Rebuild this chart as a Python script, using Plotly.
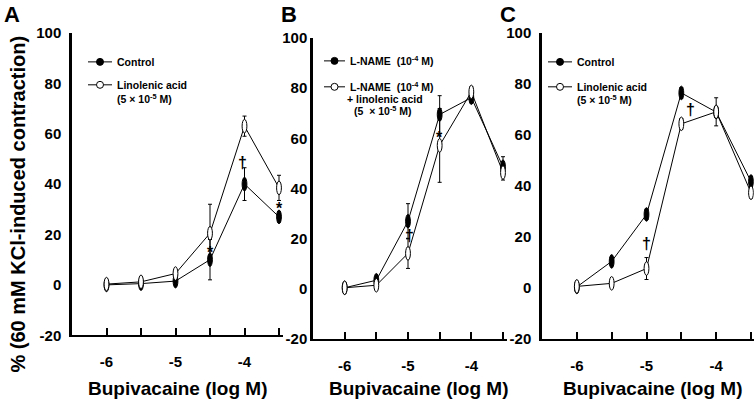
import plotly.graph_objects as go

W, H = 754, 403
FONT = "Arial, Liberation Sans, sans-serif"

# ---------------- data ----------------
doses = [-6, -5.5, -5, -4.5, -4, -3.5]
x_tickvals = [-6, -5.5, -5, -4.5, -4, -3.5]
x_ticktext = ["-6", "", "-5", "", "-4", ""]
y_tickvals = [-20, 0, 20, 40, 60, 80, 100]
y_ticktext = ["-20", "0", "20", "40", "60", "80", "100"]

# Panel A
a_control = [0, 0.5, 1.5, 10, 40, 27]
a_control_err = [0, 0, 0.5, 8, 6.5, 2]
a_lino = [0.3, 1.2, 4.5, 20.5, 63, 38.5]
a_lino_err = [0, 0, 1, 11.5, 4, 5]

# Panel B
b_lname = [0.5, 3.5, 27, 69.5, 76.2, 48.7]
b_lname_err = [0, 0.5, 7, 7.5, 2, 4]
b_lname_lino = [0.5, 1.5, 14.2, 57.2, 78.5, 46.4]
b_lname_lino_err = [0, 0.5, 6, 14.7, 2, 3]

# Panel C
c_control = [0.5, 10.5, 28.9, 76.5, 69, 41.8]
c_control_err = [0, 1.5, 2, 2, 2, 2]
c_lino = [0.7, 1.9, 7.7, 64.4, 69.1, 37.4]
c_lino_err = [0, 0.5, 4.3, 2, 5.5, 2]

# significance marks: (panel, x, y, text)
marks = [
    (1, -4.5, 13, "*"), (1, -4.03, 48.5, "†"), (1, -3.5, 30.5, "*"),
    (2, -4.5, 60.5, "*"), (2, -4.97, 21.3, "†"),
    (3, -4.37, 70, "†"), (3, -5.0, 17.5, "†"),
]

panels = [
    dict(n=1, series=[(a_control, a_control_err, "black"), (a_lino, a_lino_err, "white")]),
    dict(n=2, series=[(b_lname, b_lname_err, "black"), (b_lname_lino, b_lname_lino_err, "white")]),
    dict(n=3, series=[(c_control, c_control_err, "black"), (c_lino, c_lino_err, "white")]),
]

# layout geometry in target picture pixels (left, last tick x, top, bottom)
geom = {1: (72, 279, 33, 336), 2: (313, 503, 38, 340), 3: (542, 751, 33, 340)}
ystandoff = {1: 5, 2: 0, 3: 5}
X_LO, X_HI = -6.5, -3.5

# observed vertical mapping of the photographed page: pic_y = V_OFF + V_SCALE * page_y
V_OFF, V_SCALE = 9.0, 0.96


def px(x):
    return x / W


def py(y):
    fy = (y - V_OFF) / V_SCALE
    return min(1.0, max(0.0, 1 - fy / H))


fig = go.Figure()
shapes = []
annotations = []

for p in panels:
    n = p["n"]
    xr = "x" if n == 1 else f"x{n}"
    yr = "y" if n == 1 else f"y{n}"
    for vals, err, fill in p["series"]:
        fig.add_trace(go.Scatter(
            x=doses, y=vals, mode="lines", xaxis=xr, yaxis=yr, cliponaxis=False,
            line=dict(color="black", width=1), showlegend=False,
            error_y=dict(type="data", array=err, visible=True, color="black",
                         thickness=1, width=2),
        ))
        for xv, yv in zip(doses, vals):
            shapes.append(dict(
                type="circle", xref=xr, yref=yr, xsizemode="pixel", ysizemode="pixel",
                xanchor=xv, yanchor=yv, x0=-2.4, x1=2.4, y0=-6.8, y1=6.8,
                fillcolor=fill, line=dict(color="black", width=1), layer="above",
            ))
    l, r, t, b = geom[n]
    ppu = (r - l) / (X_HI - X_LO)
    pad_px = min(3.5, W - r - 0.2)
    xa = dict(domain=[px(l), px(r + pad_px)], range=[X_LO, X_HI + pad_px / ppu],
              tickvals=x_tickvals,
              ticktext=x_ticktext, ticks="inside", ticklen=7, tickwidth=2,
              tickcolor="black", showline=True, linewidth=2, linecolor="black",
              showgrid=False, zeroline=False, ticklabelstandoff=12,
              tickfont=dict(family=FONT, size=15, color="black", weight="bold"),
              anchor=yr)
    ya = dict(domain=[py(b), py(t)], range=[-20, 100], tickvals=y_tickvals,
              ticktext=y_ticktext, ticks="", showline=True, linewidth=2.5,
              linecolor="black", showgrid=False, zeroline=False,
              ticklabelstandoff=ystandoff[n],
              tickfont=dict(family=FONT, size=15, color="black", weight="bold"),
              anchor=xr)
    key = "" if n == 1 else str(n)
    fig.update_layout(**{f"xaxis{key}": xa, f"yaxis{key}": ya})

for n, xv, yv, txt in marks:
    xr = "x" if n == 1 else f"x{n}"
    yr = "y" if n == 1 else f"y{n}"
    annotations.append(dict(x=xv, y=yv, xref=xr, yref=yr, text=txt, showarrow=False,
                            font=dict(family=FONT, size=16, color="black", weight="bold")))

# panel letters
for letter, xp in [("A", 12), ("B", 289), ("C", 508)]:
    annotations.append(dict(x=px(xp), y=py(15), xref="paper", yref="paper", text=letter,
                            showarrow=False, xanchor="center", yanchor="middle",
                            font=dict(family=FONT, size=22, color="black", weight="bold")))

# axis titles
for xp in [177, 418, 652]:
    annotations.append(dict(x=px(xp), y=py(389), xref="paper", yref="paper",
                            text="Bupivacaine (log M)", showarrow=False,
                            xanchor="center", yanchor="middle",
                            font=dict(family=FONT, size=19, color="black", weight="bold")))
annotations.append(dict(x=px(18), y=py(205), xref="paper", yref="paper",
                        text="% (60 mM KCl-induced contraction)", showarrow=False,
                        textangle=-90, xanchor="center", yanchor="middle",
                        font=dict(family=FONT, size=20, color="black", weight="bold")))

# legends (drawn manually): (line x0, x1, y, fill, text lines [(x, y, text)])
legends = [
    (88, 112, 62, "black", [(115, 62, "Control")]),
    (88, 112, 85, "white", [(115, 85, "Linolenic acid"), (115, 99, "(5 × 10<sup>-5</sup> M)")]),
    (324, 345, 61, "black", [(348, 61, "L-NAME  (10<sup>-4</sup> M)")]),
    (324, 345, 87, "white", [(348, 87, "L-NAME  (10<sup>-4</sup> M)"),
                             (345, 99, "+ linolenic acid"),
                             (352, 111, "(5  × 10<sup>-5</sup> M)")]),
    (548, 572, 62, "black", [(575, 62, "Control")]),
    (548, 572, 87, "white", [(575, 87, "Linolenic acid"), (575, 100, "(5 × 10<sup>-5</sup> M)")]),
]
for x0, x1, yy, fill, lines in legends:
    shapes.append(dict(type="line", xref="paper", yref="paper", x0=px(x0), x1=px(x1),
                       y0=py(yy), y1=py(yy), line=dict(color="black", width=1)))
    cx = (x0 + x1) / 2
    shapes.append(dict(type="circle", xref="paper", yref="paper", x0=px(cx - 3.5), x1=px(cx + 3.5),
                       y0=py(yy + 3.5), y1=py(yy - 3.5), fillcolor=fill,
                       line=dict(color="black", width=1)))
    for tx, ty, txt in lines:
        annotations.append(dict(x=px(tx), y=py(ty), xref="paper", yref="paper", text=txt,
                                showarrow=False, xanchor="left", yanchor="middle",
                                font=dict(family=FONT, size=10.5, color="black", weight="bold")))

fig.update_layout(
    width=W, height=H, margin=dict(l=0, r=0, t=0, b=0),
    paper_bgcolor="white", plot_bgcolor="white",
    shapes=shapes, annotations=annotations, showlegend=False,
)

fig.write_html("out.html", config={"displayModeBar": False},
               post_script="document.body.style.margin='0';document.body.style.padding='0';")
